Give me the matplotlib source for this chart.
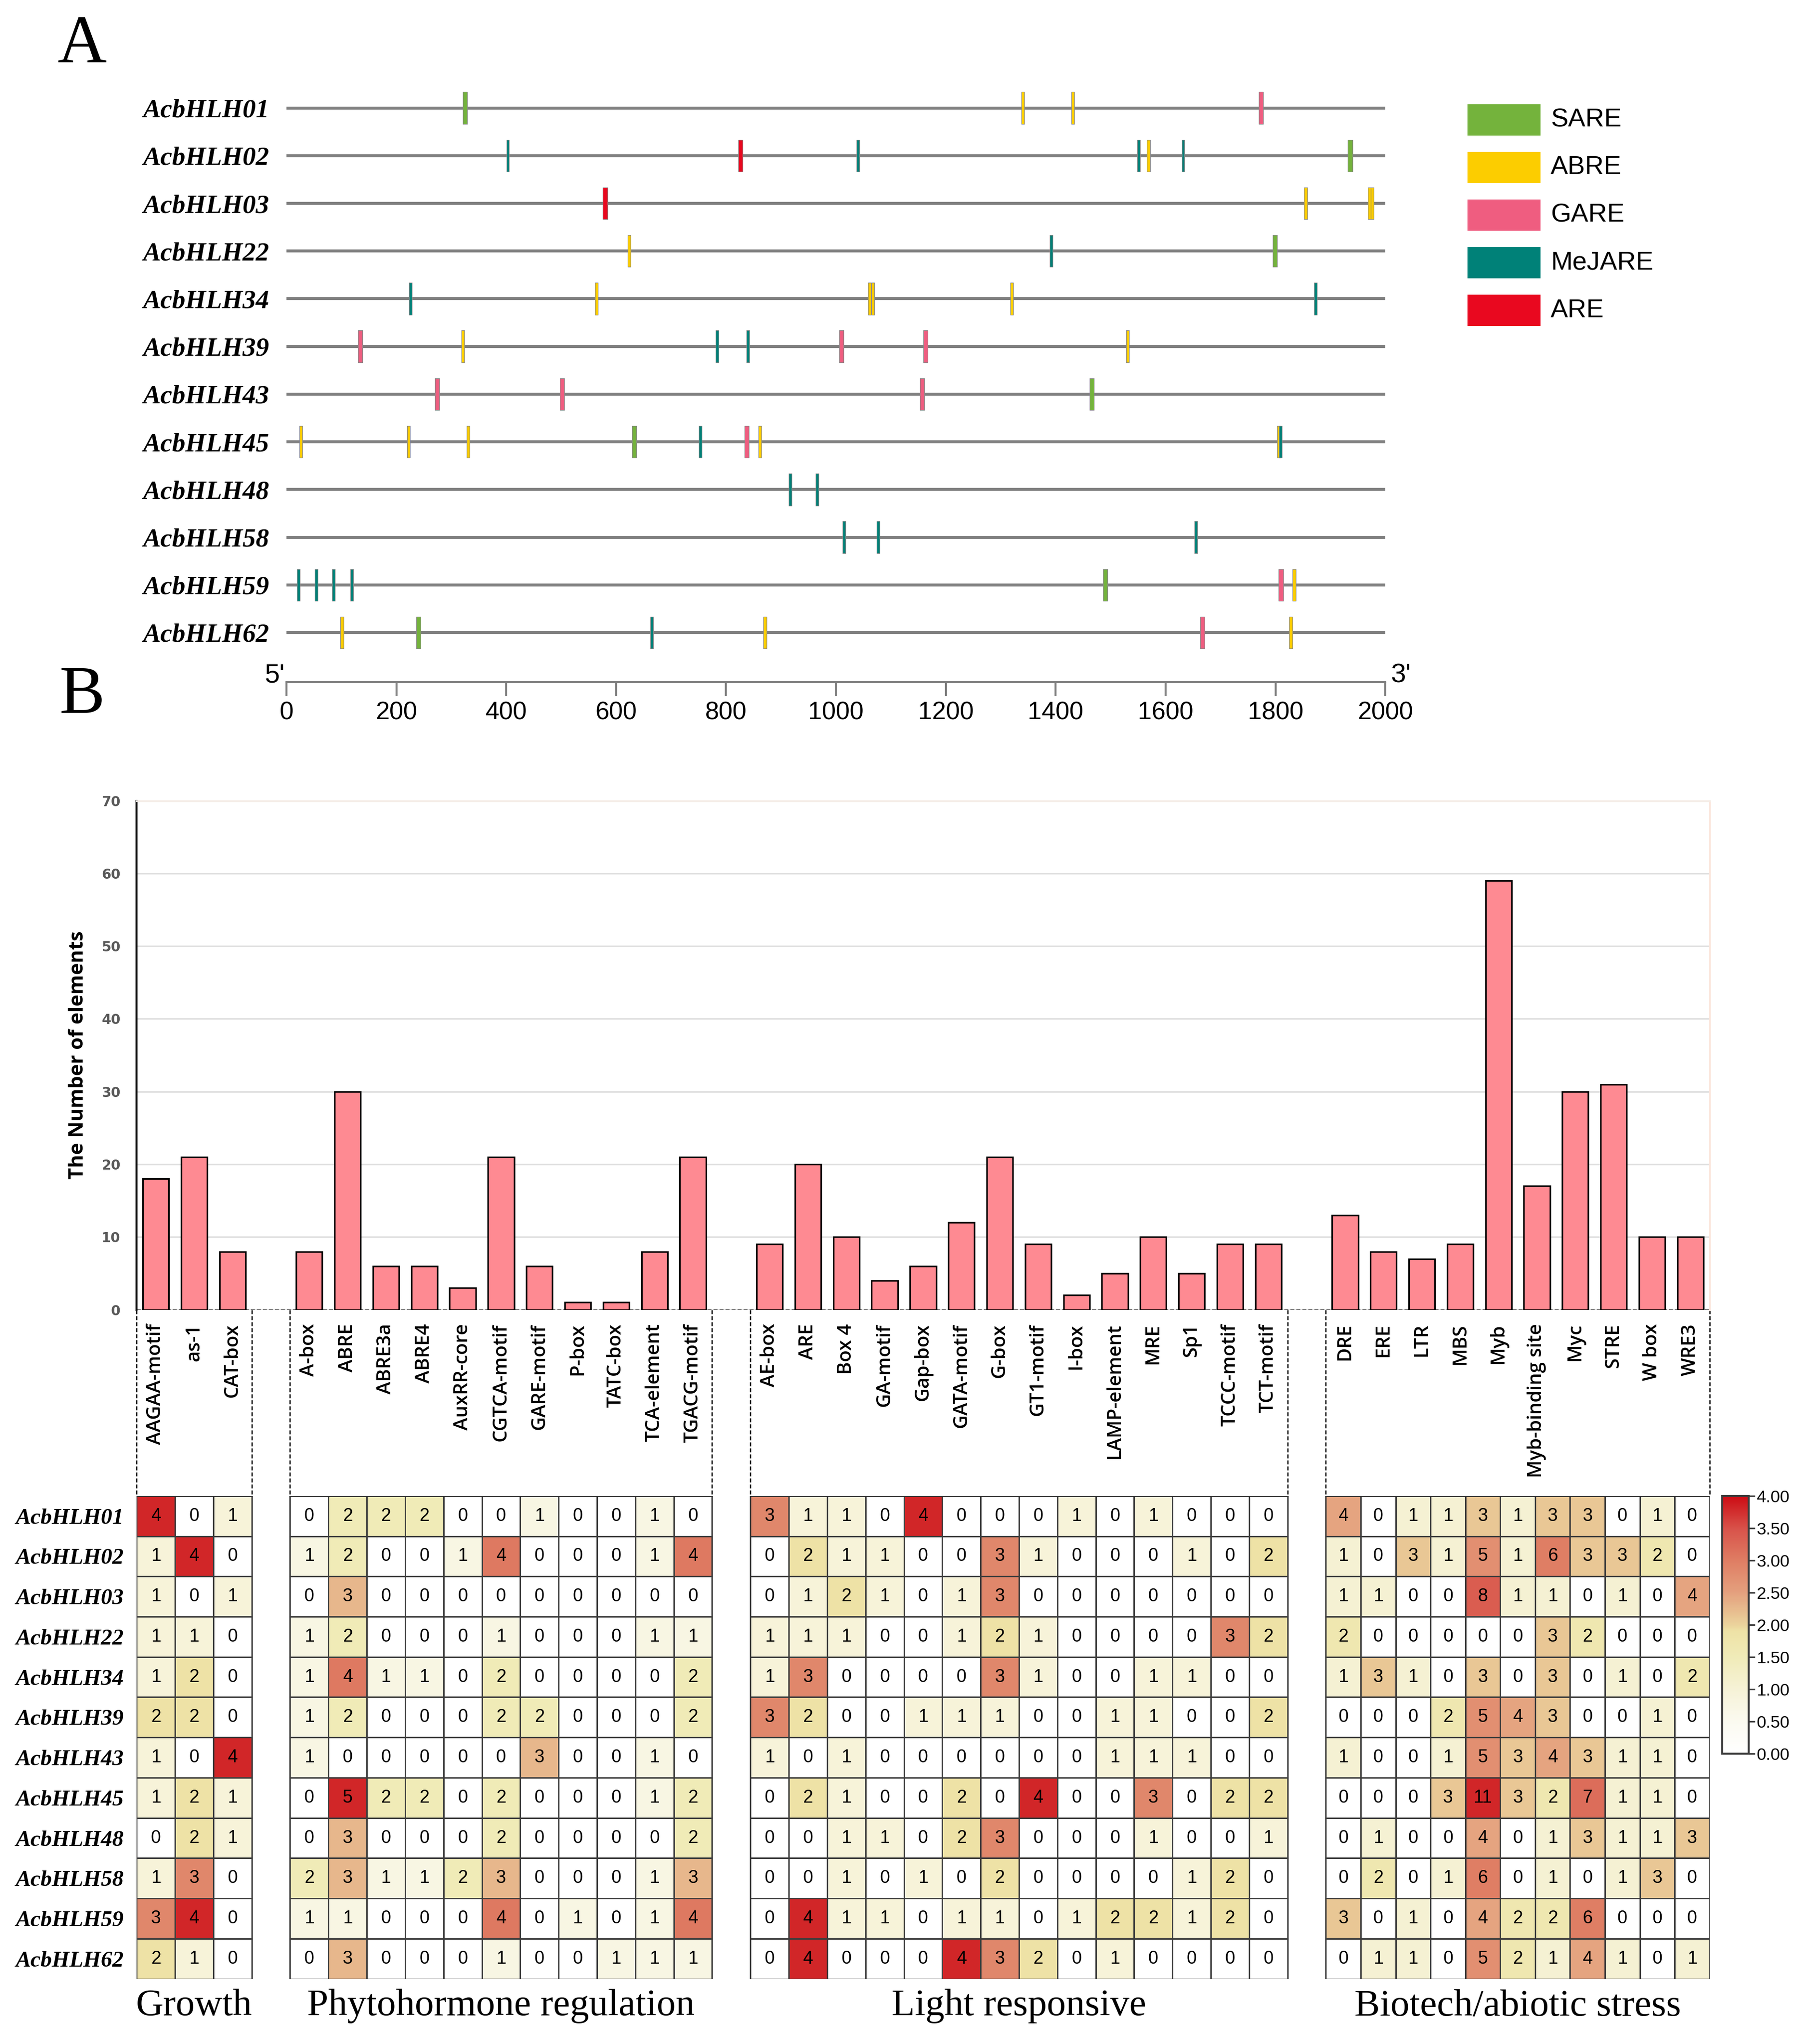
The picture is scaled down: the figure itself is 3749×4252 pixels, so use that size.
import numpy as np
import matplotlib.pyplot as plt
from matplotlib.colors import LinearSegmentedColormap
from matplotlib.patches import Rectangle
from matplotlib.transforms import blended_transform_factory

# layout grid of the reference picture (its own pixel units)
W, H = 1384.0, 1570.0


def fx(x):
    return x / W


def fy(y):
    return 1 - y / H


SERIF = 'Liberation Serif'
SANS = 'Liberation Sans'

genes = ['AcbHLH01', 'AcbHLH02', 'AcbHLH03', 'AcbHLH22', 'AcbHLH34', 'AcbHLH39',
         'AcbHLH43', 'AcbHLH45', 'AcbHLH48', 'AcbHLH58', 'AcbHLH59', 'AcbHLH62']

# ---- panel A: element positions (gene, bp) ----
SARE = [('AcbHLH01', 325), ('AcbHLH02', 1936), ('AcbHLH22', 1799), ('AcbHLH43', 1466),
        ('AcbHLH45', 633), ('AcbHLH59', 1490), ('AcbHLH62', 240)]
ABRE = [('AcbHLH01', 1340), ('AcbHLH01', 1431), ('AcbHLH02', 1569), ('AcbHLH03', 1855),
        ('AcbHLH03', 1971), ('AcbHLH03', 1976), ('AcbHLH22', 624), ('AcbHLH34', 564),
        ('AcbHLH34', 1061), ('AcbHLH34', 1067), ('AcbHLH34', 1320), ('AcbHLH39', 321),
        ('AcbHLH39', 1531), ('AcbHLH45', 26), ('AcbHLH45', 222), ('AcbHLH45', 331),
        ('AcbHLH45', 862), ('AcbHLH45', 1806), ('AcbHLH59', 1834), ('AcbHLH62', 101),
        ('AcbHLH62', 871), ('AcbHLH62', 1828)]
GARE = [('AcbHLH01', 1774), ('AcbHLH39', 134), ('AcbHLH39', 1010), ('AcbHLH39', 1163),
        ('AcbHLH43', 274), ('AcbHLH43', 502), ('AcbHLH43', 1157), ('AcbHLH45', 838),
        ('AcbHLH59', 1810), ('AcbHLH62', 1667)]
MeJARE = [('AcbHLH02', 403), ('AcbHLH02', 1040), ('AcbHLH02', 1551), ('AcbHLH02', 1632),
          ('AcbHLH22', 1392), ('AcbHLH34', 226), ('AcbHLH34', 1873), ('AcbHLH39', 784),
          ('AcbHLH39', 840), ('AcbHLH45', 753), ('AcbHLH45', 1809), ('AcbHLH48', 917),
          ('AcbHLH48', 966), ('AcbHLH58', 1015), ('AcbHLH58', 1077), ('AcbHLH58', 1655),
          ('AcbHLH59', 22), ('AcbHLH59', 54), ('AcbHLH59', 86), ('AcbHLH59', 119),
          ('AcbHLH62', 665)]
ARE = [('AcbHLH02', 826), ('AcbHLH03', 580)]

elem_names = ['SARE', 'ABRE', 'GARE', 'MeJARE', 'ARE']
elem_sites = [SARE, ABRE, GARE, MeJARE, ARE]
elem_colors = ['#74b33c', '#fccd00', '#ef5d80', '#008178', '#e9081f']
elem_width = [8, 5.5, 8, 5, 8]

# ---- panel B: element counts ----
growth_el = ['AAGAA-motif', 'as-1', 'CAT-box']
growth_n = [18, 21, 8]
phyto_el = ['A-box', 'ABRE', 'ABRE3a', 'ABRE4', 'AuxRR-core', 'CGTCA-motif', 'GARE-motif',
            'P-box', 'TATC-box', 'TCA-element', 'TGACG-motif']
phyto_n = [8, 30, 6, 6, 3, 21, 6, 1, 1, 8, 21]
light_el = ['AE-box', 'ARE', 'Box 4', 'GA-motif', 'Gap-box', 'GATA-motif', 'G-box',
            'GT1-motif', 'I-box', 'LAMP-element', 'MRE', 'Sp1', 'TCCC-motif', 'TCT-motif']
light_n = [9, 20, 10, 4, 6, 12, 21, 9, 2, 5, 10, 5, 9, 9]
stress_el = ['DRE', 'ERE', 'LTR', 'MBS', 'Myb', 'Myb-binding site', 'Myc', 'STRE',
             'W box', 'WRE3']
stress_n = [13, 8, 7, 9, 59, 17, 30, 31, 10, 10]

growth_hm = [[4, 0, 1], [1, 4, 0], [1, 0, 1], [1, 1, 0], [1, 2, 0], [2, 2, 0],
             [1, 0, 4], [1, 2, 1], [0, 2, 1], [1, 3, 0], [3, 4, 0], [2, 1, 0]]
phyto_hm = [[0, 2, 2, 2, 0, 0, 1, 0, 0, 1, 0],
            [1, 2, 0, 0, 1, 4, 0, 0, 0, 1, 4],
            [0, 3, 0, 0, 0, 0, 0, 0, 0, 0, 0],
            [1, 2, 0, 0, 0, 1, 0, 0, 0, 1, 1],
            [1, 4, 1, 1, 0, 2, 0, 0, 0, 0, 2],
            [1, 2, 0, 0, 0, 2, 2, 0, 0, 0, 2],
            [1, 0, 0, 0, 0, 0, 3, 0, 0, 1, 0],
            [0, 5, 2, 2, 0, 2, 0, 0, 0, 1, 2],
            [0, 3, 0, 0, 0, 2, 0, 0, 0, 0, 2],
            [2, 3, 1, 1, 2, 3, 0, 0, 0, 1, 3],
            [1, 1, 0, 0, 0, 4, 0, 1, 0, 1, 4],
            [0, 3, 0, 0, 0, 1, 0, 0, 1, 1, 1]]
light_hm = [[3, 1, 1, 0, 4, 0, 0, 0, 1, 0, 1, 0, 0, 0],
            [0, 2, 1, 1, 0, 0, 3, 1, 0, 0, 0, 1, 0, 2],
            [0, 1, 2, 1, 0, 1, 3, 0, 0, 0, 0, 0, 0, 0],
            [1, 1, 1, 0, 0, 1, 2, 1, 0, 0, 0, 0, 3, 2],
            [1, 3, 0, 0, 0, 0, 3, 1, 0, 0, 1, 1, 0, 0],
            [3, 2, 0, 0, 1, 1, 1, 0, 0, 1, 1, 0, 0, 2],
            [1, 0, 1, 0, 0, 0, 0, 0, 0, 1, 1, 1, 0, 0],
            [0, 2, 1, 0, 0, 2, 0, 4, 0, 0, 3, 0, 2, 2],
            [0, 0, 1, 1, 0, 2, 3, 0, 0, 0, 1, 0, 0, 1],
            [0, 0, 1, 0, 1, 0, 2, 0, 0, 0, 0, 1, 2, 0],
            [0, 4, 1, 1, 0, 1, 1, 0, 1, 2, 2, 1, 2, 0],
            [0, 4, 0, 0, 0, 4, 3, 2, 0, 1, 0, 0, 0, 0]]
stress_hm = [[4, 0, 1, 1, 3, 1, 3, 3, 0, 1, 0],
             [1, 0, 3, 1, 5, 1, 6, 3, 3, 2, 0],
             [1, 1, 0, 0, 8, 1, 1, 0, 1, 0, 4],
             [2, 0, 0, 0, 0, 0, 3, 2, 0, 0, 0],
             [1, 3, 1, 0, 3, 0, 3, 0, 1, 0, 2],
             [0, 0, 0, 2, 5, 4, 3, 0, 0, 1, 0],
             [1, 0, 0, 1, 5, 3, 4, 3, 1, 1, 0],
             [0, 0, 0, 3, 11, 3, 2, 7, 1, 1, 0],
             [0, 1, 0, 0, 4, 0, 1, 3, 1, 1, 3],
             [0, 2, 0, 1, 6, 0, 1, 0, 1, 3, 0],
             [3, 0, 1, 0, 4, 2, 2, 6, 0, 0, 0],
             [0, 1, 1, 0, 5, 2, 1, 4, 1, 0, 1]]

group_titles = ['Growth', 'Phytohormone regulation', 'Light responsive', 'Biotech/abiotic stress']
group_els = [growth_el, phyto_el, light_el, stress_el]
group_n = [growth_n, phyto_n, light_n, stress_n]
group_hm = [growth_hm, phyto_hm, light_hm, stress_hm]
group_start = [0, 4, 16, 31]       # slot where each group starts on the shared x scale
group_end = [3, 15, 30, 41]
group_shade = [('lin', 0.95), ('lin', 0.76), ('lin', 0.95), ('log', 11)]

cmap = LinearSegmentedColormap.from_list('hm', [
    (0.0, '#ffffff'), (0.125, '#fbfaf0'), (0.25, '#f6f2d6'), (0.375, '#f0ebb8'),
    (0.475, '#eee2a6'), (0.5, '#ebd39c'), (0.625, '#e4a07e'), (0.75, '#df7d63'),
    (0.875, '#d8524a'), (1.0, '#cc0c14')])


def shade(vals, kind, k):
    v = np.asarray(vals, float)
    if kind == 'lin':
        return v * k
    return 3.8 * np.log1p(v) / np.log1p(k)


DASH = (0, (3.3, 1.7))

fig = plt.figure(figsize=(3749 / 300, 4252 / 300), dpi=300)
fig.patch.set_facecolor('white')

# ---------------- panel A ----------------
axA = fig.add_axes([fx(220), fy(524), fx(1064) - fx(220), fy(54) - fy(524)])
axA.set_xlim(0, 2000)
axA.set_ylim(12.04, -0.79)
rows = {g: i for i, g in enumerate(genes)}
axA.hlines(range(len(genes)), 0, 2000, color='#808080', lw=1.5, zorder=1)
for name, sites, col, w in zip(elem_names, elem_sites, elem_colors, elem_width):
    ys = [rows[g] - 0.335 for g, p in sites]
    xs = [p for g, p in sites]
    axA.bar(xs, 0.67, width=w, bottom=ys, color=col, edgecolor='#8c8c8c',
            linewidth=0.3, zorder=3)
for s in ['top', 'right', 'left']:
    axA.spines[s].set_visible(False)
axA.spines['bottom'].set_color('#808080')
axA.spines['bottom'].set_linewidth(1.0)
axA.set_xticks(np.arange(0, 2001, 200))
axA.tick_params(axis='x', length=7, width=1.0, color='#808080', labelsize=12.5, pad=2.5)
for t in axA.get_xticklabels():
    t.set_fontfamily(SANS)
axA.set_yticks(range(len(genes)))
axA.set_yticklabels(genes, fontfamily=SERIF, fontweight='bold', fontstyle='italic',
                    fontsize=13.2)
axA.tick_params(axis='y', length=0, pad=8.5)
fig.text(fx(211), fy(519), "5'", ha='center', va='center', fontsize=13.5, family=SANS)
fig.text(fx(1076), fy(519), "3'", ha='center', va='center', fontsize=13.5, family=SANS)

for i, (name, col) in enumerate(zip(elem_names, elem_colors)):
    top = 80 + i * 36.6
    fig.add_artist(Rectangle((fx(1127), fy(top + 24)), fx(1183) - fx(1127),
                             fy(top) - fy(top + 24), transform=fig.transFigure,
                             facecolor=col, edgecolor='none'))
    fig.text(fx(1191), fy(top + 12), name, ha='left', va='center', fontsize=13,
             family=SANS)

fig.text(fx(63), fy(35), 'A', ha='center', va='center', fontsize=34, family=SERIF)
fig.text(fx(63), fy(535), 'B', ha='center', va='center', fontsize=34, family=SERIF)

# ---------------- panel B: bars ----------------
axB = fig.add_axes([fx(104.9), fy(1006), fx(1313) - fx(104.9), fy(615) - fy(1006)])
axB.set_xlim(0, 41)
axB.set_ylim(0, 70)
xpos, xlab, heights = [], [], []
for st, els, ns in zip(group_start, group_els, group_n):
    xpos += list(st + np.arange(len(els)) + 0.5)
    xlab += els
    heights += ns
axB.bar(xpos, heights, width=0.68, color='#fe8a92', edgecolor='black', linewidth=0.8,
        zorder=3)
axB.set_axisbelow(True)
axB.yaxis.grid(True, color='#dedede', lw=0.8)
axB.set_yticks(np.arange(0, 71, 10))
axB.tick_params(axis='y', length=0, pad=8, labelsize=6.8, labelcolor='#595959')
for t in axB.get_yticklabels():
    t.set_fontweight('bold')
axB.set_xticks(xpos)
axB.set_xticklabels(xlab, rotation=90, fontsize=9.6, family='Open Sans',
                    fontweight='semibold', va='top', ha='center')
axB.tick_params(axis='x', length=0, pad=6.9)
axB.spines['left'].set_linewidth(1.0)
axB.spines['bottom'].set_visible(False)
axB.spines['top'].set_color('#f4ece6')
axB.spines['right'].set_color('#fbe6dc')
axB.axhline(0, color='black', lw=0.6, ls=DASH, zorder=2)
axB.set_ylabel('The Number of elements', fontsize=10, fontweight='bold', family='Open Sans')
axB.yaxis.set_label_coords(-0.031, 0.5)

trB = blended_transform_factory(axB.transData, fig.transFigure)
for st, en in zip(group_start, group_end):
    for xv in (st, en):
        axB.plot([xv, xv], [fy(1006), fy(1149)], transform=trB, color='black', lw=0.6,
                 ls=DASH, clip_on=False)

# ---------------- panel B: heatmap ----------------
axH = fig.add_axes([fx(104.9), fy(1520), fx(1313) - fx(104.9), fy(1149) - fy(1520)])
axH.set_xlim(0, 41)
axH.set_ylim(12, 0)
mesh = None
for st, en, hm, (kind, k) in zip(group_start, group_end, group_hm, group_shade):
    vals = np.array(hm)
    ncol = vals.shape[1]
    xe = np.linspace(st, en, ncol + 1)
    mesh = axH.pcolormesh(xe, np.arange(len(genes) + 1), shade(vals, kind, k), cmap=cmap,
                          vmin=0, vmax=4, edgecolors='#3c3c3c', linewidth=0.6)
    xc = (xe[:-1] + xe[1:]) / 2
    for r in range(vals.shape[0]):
        for c in range(ncol):
            axH.text(xc[c], r + 0.5, str(vals[r, c]), ha='center', va='center',
                     fontsize=9, family=SANS)
for s in axH.spines.values():
    s.set_visible(False)
axH.set_xticks([])
axH.set_yticks(np.arange(len(genes)) + 0.5)
axH.set_yticklabels(genes, fontfamily=SERIF, fontweight='bold', fontstyle='italic',
                    fontsize=11.3)
axH.tick_params(axis='y', length=0, pad=6.4)

trH = blended_transform_factory(axH.transData, fig.transFigure)
for st, en, title in zip(group_start, group_end, group_titles):
    axH.text((st + en) / 2, fy(1541), title, transform=trH, ha='center', va='center',
             fontsize=19, family=SERIF)

cax = fig.add_axes([fx(1322.6), fy(1347), fx(1343) - fx(1322.6), fy(1149) - fy(1347)])
cb = fig.colorbar(mesh, cax=cax, ticks=np.arange(0, 4.01, 0.5), format='%.2f')
cb.outline.set_edgecolor('#3c3c3c')
cb.outline.set_linewidth(1.0)
cax.tick_params(labelsize=8.5, length=3, width=0.8, color='#3c3c3c', pad=1)
for t in cax.get_yticklabels():
    t.set_fontfamily(SANS)

fig.savefig('out.png', dpi=300)
